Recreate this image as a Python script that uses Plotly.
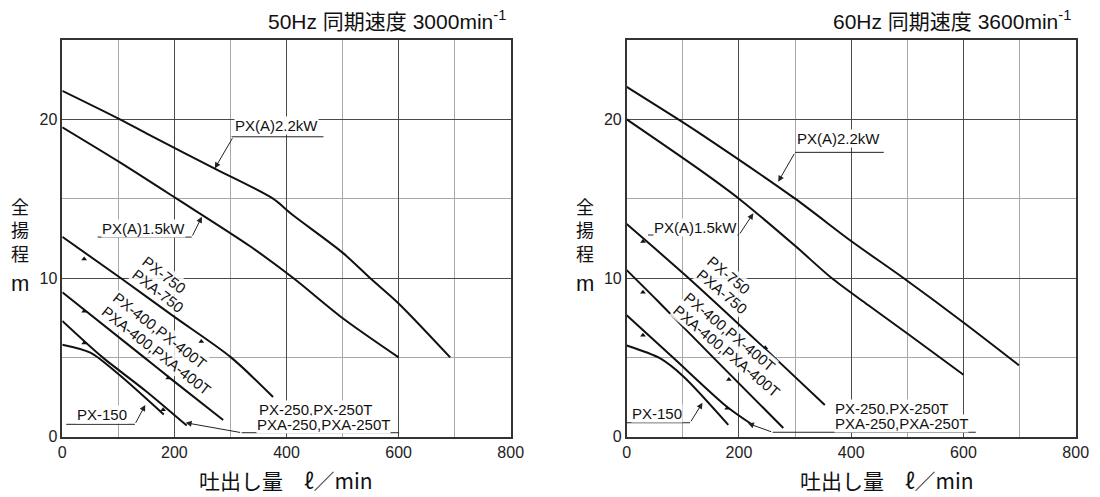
import plotly.graph_objects as go

# ---------------- data ----------------
# 50 Hz chart
hz50_22_x = [0, 103, 156, 272, 376, 410, 500, 549, 600, 692]
hz50_22_y = [21.8, 20.0, 19.0, 16.9, 15.0, 14.0, 11.6, 10.0, 8.4, 5.0]
hz50_15_x = [0, 100, 204, 335, 412, 501, 600]
hz50_15_y = [19.5, 17.35, 15.0, 12.0, 10.0, 7.45, 5.0]
hz50_750_x = [0, 104, 200, 301, 376]
hz50_750_y = [12.6, 10.0, 7.55, 5.0, 2.5]
hz50_400_x = [0, 146, 200, 287]
hz50_400_y = [9.1, 5.0, 3.47, 1.05]
hz50_250_x = [0, 72, 150, 222]
hz50_250_y = [7.3, 5.0, 2.85, 0.7]
hz50_150_x = [0, 50, 100, 181]
hz50_150_y = [5.8, 5.3, 3.95, 1.4]
hz50_mark_x = [39, 248, 39, 189, 39, 180]
hz50_mark_y = [11.2, 6.0, 7.9, 3.7, 5.9, 1.7]

# 60 Hz chart
hz60_22_x = [0, 92, 131, 300, 401, 493, 600, 699]
hz60_22_y = [22.05, 20.0, 19.1, 15.0, 12.3, 10.0, 7.2, 4.5]
hz60_15_x = [0, 131, 200, 301, 365, 430, 500, 600]
hz60_15_y = [20.0, 16.8, 15.0, 12.0, 10.0, 8.3, 6.5, 3.9]
hz60_750_x = [0, 110, 263, 353]
hz60_750_y = [13.4, 10.0, 5.0, 2.0]
hz60_400_x = [0, 54, 154, 279]
hz60_400_y = [10.5, 8.6, 5.0, 0.55]
hz60_250_x = [0, 82, 178, 222]
hz60_250_y = [7.65, 5.0, 1.9, 0.8]
hz60_150_x = [0, 59, 101, 181]
hz60_150_y = [5.75, 4.95, 3.8, 0.75]
hz60_mark_x = [29, 247, 29, 182, 29, 179]
hz60_mark_y = [12.3, 5.6, 9.1, 3.6, 6.4, 1.8]

x_ticks = [0, 200, 400, 600, 800]
y_ticks = [0, 10, 20]
titles = ["50Hz 同期速度 3000min<sup>-1</sup>", "60Hz 同期速度 3600min<sup>-1</sup>"]
x_title = "吐出し量　ℓ／min"
y_title = "全<br>揚<br>程"
y_unit = "m"

FONT = "Liberation Sans, Arial, Noto Sans CJK JP, sans-serif"
CJK = "Noto Sans CJK JP, Liberation Sans, sans-serif"
W, H = 1100, 497

fig = go.Figure()

def add_curves(xs_ys, xa, ya):
    for xs, ys in xs_ys:
        fig.add_trace(go.Scatter(x=xs, y=ys, mode="lines", xaxis=xa, yaxis=ya,
                                 line=dict(color="#111", width=2, shape="spline", smoothing=0.8),
                                 showlegend=False, hoverinfo="skip"))

add_curves([(hz50_22_x, hz50_22_y), (hz50_15_x, hz50_15_y), (hz50_750_x, hz50_750_y),
            (hz50_400_x, hz50_400_y), (hz50_250_x, hz50_250_y), (hz50_150_x, hz50_150_y)], "x", "y")
add_curves([(hz60_22_x, hz60_22_y), (hz60_15_x, hz60_15_y), (hz60_750_x, hz60_750_y),
            (hz60_400_x, hz60_400_y), (hz60_250_x, hz60_250_y), (hz60_150_x, hz60_150_y)], "x2", "y2")

fig.add_trace(go.Scatter(x=hz50_mark_x, y=hz50_mark_y, mode="markers", xaxis="x", yaxis="y",
                         marker=dict(symbol="triangle-up", size=5, color="#111"),
                         showlegend=False, hoverinfo="skip"))
fig.add_trace(go.Scatter(x=hz60_mark_x, y=hz60_mark_y, mode="markers", xaxis="x2", yaxis="y2",
                         marker=dict(symbol="triangle-up", size=5, color="#111"),
                         showlegend=False, hoverinfo="skip"))

dom_y = [(H - 436.7) / H, (H - 40) / H]
dom_x1 = [62.3 / W, 510.7 / W]
dom_x2 = [626.7 / W, 1075.7 / W]

def xaxis(dom, anchor):
    return dict(domain=dom, anchor=anchor, range=[0, 800], tickvals=x_ticks,
                ticktext=[str(v) for v in x_ticks], ticks="", showgrid=True,
                gridcolor="#4a4a4a", gridwidth=1, zeroline=False,
                minor=dict(dtick=100, tick0=0, showgrid=True, gridcolor="#a8a8a8", gridwidth=1),
                showline=True, mirror=True, linecolor="#333", linewidth=1.5,
                tickfont=dict(family=FONT, size=16, color="#222"), automargin=False,
                fixedrange=True)

def yaxis(anchor):
    return dict(domain=dom_y, anchor=anchor, range=[0, 25], tickvals=y_ticks,
                ticktext=[str(v) for v in y_ticks], ticks="", showgrid=True,
                gridcolor="#4a4a4a", gridwidth=1, zeroline=False,
                minor=dict(dtick=5, tick0=0, showgrid=True, gridcolor="#a8a8a8", gridwidth=1),
                showline=True, mirror=True, linecolor="#333", linewidth=1.5,
                tickfont=dict(family=FONT, size=16, color="#222"), automargin=False,
                fixedrange=True)

annotations = []
shapes = []

def text_ann(text, x, y, xr, yr, angle=0, xanchor="center", bg="white", size=15):
    annotations.append(dict(text=text, x=x, y=y, xref=xr, yref=yr, showarrow=False,
                            textangle=angle, xanchor=xanchor, yanchor="middle",
                            bgcolor=bg, borderpad=0,
                            font=dict(family=FONT, size=size, color="#111")))

def leader(x0, y0, x1, y1, xr, yr):
    # arrow from (x0,y0) to tip (x1,y1)
    annotations.append(dict(text="", x=x1, y=y1, ax=x0, ay=y0, xref=xr, yref=yr,
                            axref=xr, ayref=yr, showarrow=True, arrowhead=2,
                            arrowsize=1.2, arrowwidth=1, arrowcolor="#222", standoff=0))

def hline(x0, x1, y, xr, yr):
    shapes.append(dict(type="line", x0=x0, x1=x1, y0=y, y1=y, xref=xr, yref=yr,
                       line=dict(color="#222", width=1)))

ROT_BG = "rgba(255,255,255,0.85)"

# ---- left (50 Hz) labels
text_ann("PX(A)2.2kW", 382, 19.64, "x", "y")
hline(302, 466, 18.9, "x", "y")
leader(305, 18.9, 272, 16.9, "x", "y")
text_ann("PX(A)1.5kW", 145, 13.13, "x", "y")
hline(63, 231, 12.58, "x", "y")
leader(231, 12.58, 249, 13.86, "x", "y")
text_ann("PX-750", 181, 10.2, "x", "y", angle=38, bg=ROT_BG)
text_ann("PXA-750", 170, 9.2, "x", "y", angle=38, bg=ROT_BG)
text_ann("PX-400,PX-400T", 174, 6.68, "x", "y", angle=38, bg=ROT_BG)
text_ann("PXA-400,PXA-400T", 168, 5.46, "x", "y", angle=38, bg=ROT_BG)
text_ann("PX-150", 71, 1.4, "x", "y")
hline(7, 129.5, 0.78, "x", "y")
leader(129.5, 0.78, 148, 2.0, "x", "y")
text_ann("PX-250,PX-250T", 349, 1.7, "x", "y", xanchor="left")
text_ann("PXA-250,PXA-250T", 346, 0.8, "x", "y", xanchor="left")
hline(320, 601, 0.25, "x", "y")
leader(320, 0.25, 220, 0.88, "x", "y")

# ---- right (60 Hz) labels
text_ann("PX(A)2.2kW", 378, 18.79, "x2", "y2")
hline(300, 458, 17.92, "x2", "y2")
leader(300, 17.92, 270, 16.07, "x2", "y2")
text_ann("PX(A)1.5kW", 122, 13.17, "x2", "y2")
hline(38, 200, 12.71, "x2", "y2")
leader(200, 12.71, 225.6, 14.08, "x2", "y2")
text_ann("PX-750", 183, 10.19, "x2", "y2", angle=40, bg=ROT_BG)
text_ann("PXA-750", 170, 9.14, "x2", "y2", angle=40, bg=ROT_BG)
text_ann("PX-400,PX-400T", 183, 6.62, "x2", "y2", angle=40, bg=ROT_BG)
text_ann("PXA-400,PXA-400T", 177, 5.42, "x2", "y2", angle=40, bg=ROT_BG)
text_ann("PX-150", 54, 1.47, "x2", "y2")
hline(0, 113, 0.88, "x2", "y2")
leader(113, 0.88, 135, 2.14, "x2", "y2")
text_ann("PX-250,PX-250T", 369, 1.79, "x2", "y2", xanchor="left")
text_ann("PXA-250,PXA-250T", 369, 0.84, "x2", "y2", xanchor="left")
hline(260, 622, 0.28, "x2", "y2")
leader(260, 0.28, 216, 0.84, "x2", "y2")

# ---- titles and axis titles (paper coords)
for t, xr in zip(titles, [508 / W, 1073 / W]):
    annotations.append(dict(text=t, x=xr, y=(H - 20) / H, xref="paper", yref="paper",
                            xanchor="right", yanchor="middle", showarrow=False,
                            font=dict(family=FONT, size=21, color="#111")))
for cx, tx in [(20, 286), (585, 887)]:
    annotations.append(dict(text=y_title, x=cx / W, y=(H - 229) / H, xref="paper",
                            yref="paper", xanchor="center", yanchor="middle", showarrow=False,
                            font=dict(family=CJK, size=18, color="#111")))
    annotations.append(dict(text=y_unit, x=cx / W, y=(H - 283) / H, xref="paper", yref="paper",
                            xanchor="center", yanchor="middle", showarrow=False,
                            font=dict(family=FONT, size=22, color="#111")))
    annotations.append(dict(text=x_title, x=tx / W, y=(H - 480) / H, xref="paper", yref="paper",
                            xanchor="center", yanchor="middle", showarrow=False,
                            font=dict(family=CJK, size=21, color="#111")))

fig.update_layout(
    width=W, height=H, margin=dict(l=0, r=0, t=0, b=0),
    paper_bgcolor="white", plot_bgcolor="white", template="none",
    xaxis=xaxis(dom_x1, "y"), yaxis=yaxis("x"),
    xaxis2=xaxis(dom_x2, "y2"), yaxis2=yaxis("x2"),
    annotations=annotations, shapes=shapes, showlegend=False,
)

fig.write_html("out.html", config={"displayModeBar": False},
               post_script="document.body.style.margin='0';document.body.style.overflow='hidden';")
